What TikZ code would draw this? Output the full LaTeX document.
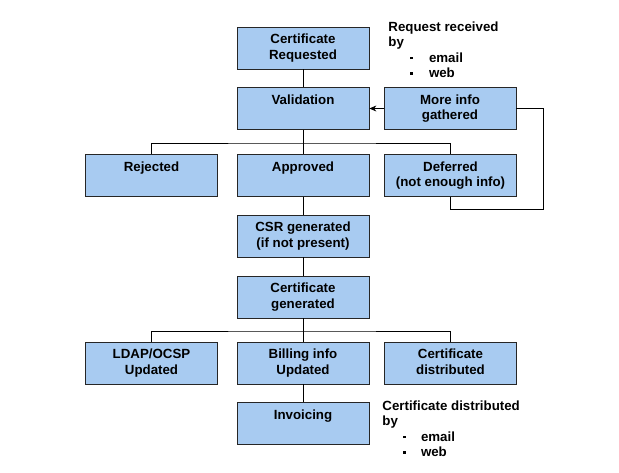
\documentclass[tikz,border=0pt]{standalone}
\usepackage{fontspec}
\setmainfont{Liberation Sans}
\usetikzlibrary{arrows.meta}
\definecolor{boxblue}{RGB}{168,203,241}
\newcommand{\sqbullet}{\rule[3pt]{2.6pt}{2.6pt}}
\newcommand{\topstrut}{\rule{0pt}{12.8pt}}
\newcommand{\botstrut}{\rule[-3pt]{0pt}{3pt}}
\tikzset{
	box/.style={draw=black!85, fill=boxblue, minimum width=132pt, minimum height=42pt, inner sep=0pt, align=center, font=\fontsize{13.3}{15.5}\selectfont\bfseries, execute at begin node=\topstrut, execute at end node=\botstrut},
	note/.style={anchor=north west, inner sep=0pt, align=left, font=\fontsize{13.3}{15.5}\selectfont\bfseries}
}

\begin{document}
\begin{tikzpicture}[x=1pt, y=-1pt, line width=0.8pt, >={Stealth[length=7pt, width=6pt]}]

	\useasboundingbox (0,0) rectangle (619,472);

	\node[box] (req)   at (303, 48)    {Certificate\\Requested};
	\node[box] (valid) at (303, 108.5) {Validation\\~};
	\node[box] (more)  at (450, 108.5) {More info\\gathered};

	\node[box] (rej)   at (151.5, 175.5) {Rejected\\~};
	\node[box] (appr)  at (303, 175.5)   {Approved\\~};
	\node[box] (defer) at (450.5, 175.5) {Deferred\\(not enough info)};

	\node[box] (csr)   at (303, 236)   {CSR generated\\(if not present)};
	\node[box] (gen)   at (303, 297)   {Certificate\\generated};

	\node[box] (ldap)  at (151.5, 363) {LDAP/OCSP\\Updated};
	\node[box] (bill)  at (303, 363)   {Billing info\\Updated};
	\node[box] (dist)  at (450.5, 363) {Certificate\\distributed};

	\node[box] (inv)   at (303, 423.5) {Invoicing\\~};

	\node[note] (reqnote) at (388, 21.2) {Request received\\by\\\hspace{22pt}\sqbullet\hspace{16pt}email\\\hspace{22pt}\sqbullet\hspace{16pt}web};
	\node[note] (distnote) at (382, 400.2) {Certificate distributed\\by\\\hspace{21pt}\sqbullet\hspace{15pt}email\\\hspace{21pt}\sqbullet\hspace{15pt}web};

	% bus lines
	\coordinate (busA) at (303, 143);
	\coordinate (busB) at (303, 331);
	\coordinate (loop) at (543, 209);

	\draw (req) -- (valid);
	\draw (valid) -- (appr);
	\draw (rej.north) |- (busA) -| (defer.north);

	% deferred goes back to validation
	\draw (defer.south) |- (loop) |- (more.east);
	\draw[->] (more.west) -- (valid.east);

	\draw (appr) -- (csr);
	\draw (csr) -- (gen);
	\draw (gen) -- (bill);
	\draw (ldap.north) |- (busB) -| (dist.north);
	\draw (bill) -- (inv);

\end{tikzpicture}
\end{document}
